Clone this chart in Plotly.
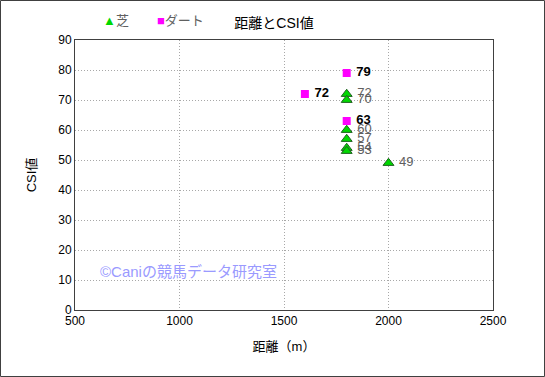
import plotly.graph_objects as go

# Data
turf_distance = [1800, 1800, 1800, 1800, 1800, 1800, 2000]
turf_csi = [72, 70, 60, 57, 54, 53, 49]
dirt_distance = [1800, 1600, 1800]
dirt_csi = [79, 72, 63]

x_ticks = [500, 1000, 1500, 2000, 2500]
y_ticks = [0, 10, 20, 30, 40, 50, 60, 70, 80, 90]

FONT = "Liberation Sans, Arial, Noto Sans CJK JP, sans-serif"
TURF_COLOR = "#00d800"
DIRT_COLOR = "#ff00ff"
NBSP = "\u00a0"

fig = go.Figure()
fig.add_trace(go.Scatter(
    x=turf_distance, y=turf_csi, name="芝", mode="markers+text",
    marker=dict(symbol="triangle-up", size=9.5, color=TURF_COLOR,
                line=dict(color="#206020", width=1)),
    text=[NBSP + str(v) for v in turf_csi], textposition="middle right",
    textfont=dict(family=FONT, size=13, color="#606060"),
))
fig.add_trace(go.Scatter(
    x=dirt_distance, y=dirt_csi, name="ダート", mode="markers+text",
    marker=dict(symbol="square", size=8, color=DIRT_COLOR,
                line=dict(width=0)),
    text=[NBSP + str(v) for v in dirt_csi], textposition="middle right",
    textfont=dict(family=FONT, size=13, color="#000000", weight="bold"),
))

L, R, T, B = 75, 52, 40, 67
W, H = 545, 377
pw, ph = W - L - R, H - T - B

grid = dict(showgrid=True, gridcolor="#a8a8a8", griddash="1px,2px", gridwidth=1,
            showline=True, linecolor="#404040", linewidth=1, mirror=True,
            zeroline=False, ticks="", ticklen=0, automargin=False,
            tickfont=dict(family=FONT, size=12, color="#000000"))

fig.update_layout(
    width=W, height=H,
    margin=dict(l=L, r=R, t=T, b=B, pad=0, autoexpand=False),
    paper_bgcolor="white", plot_bgcolor="white",
    font=dict(family=FONT, size=12, color="#000000"),
    title=dict(text="距離とCSI値", x=(274 - L) / pw, xref="paper", xanchor="center",
               y=1 - 23 / H, yref="container", yanchor="middle",
               font=dict(family=FONT, size=14, color="#000000")),
    showlegend=False,
    xaxis=dict(range=[500, 2500], tickvals=x_ticks, ticktext=[str(v) for v in x_ticks],
               title=dict(text="距離（m）", standoff=14,
                          font=dict(family=FONT, size=13, color="#000000")),
               **grid),
    yaxis=dict(range=[0, 90], tickvals=y_ticks, ticktext=[str(v) for v in y_ticks],
               title=dict(text="CSI値", standoff=18,
                          font=dict(family=FONT, size=13, color="#000000")),
               **grid),
)

# legend drawn as text entries (symbol immediately followed by the series name)
fig.add_annotation(
    text=f'<span style="color:{TURF_COLOR}">▲</span>芝',
    xref="paper", x=(101 - L) / pw, xanchor="left",
    yref="paper", y=1 + (T - 21) / ph, yanchor="middle", showarrow=False,
    font=dict(family=FONT, size=13, color="#606060"),
)
fig.add_annotation(
    text=f'<span style="color:{DIRT_COLOR}">■</span>ダート',
    xref="paper", x=(155 - L) / pw, xanchor="left",
    yref="paper", y=1 + (T - 21) / ph, yanchor="middle", showarrow=False,
    font=dict(family=FONT, size=13, color="#606060"),
)

fig.add_annotation(
    text="©Caniの競馬データ研究室", xref="paper", x=(98 - L) / pw, xanchor="left",
    yref="y", y=13, yanchor="middle", showarrow=False,
    font=dict(family=FONT, size=15, color="#9a9aff"),
)

# outer border around the whole chart
fig.add_shape(type="rect", xref="paper", yref="paper",
              x0=(0.5 - L) / pw, x1=(W - 0.5 - L) / pw,
              y0=-(H - 0.5 - (T + ph)) / ph, y1=(T + ph - 0.5) / ph,
              line=dict(color="#404040", width=1), fillcolor="rgba(0,0,0,0)",
              layer="below")

fig.write_html(
    "out.html",
    config={"displayModeBar": False},
    post_script="document.body.style.margin='0';document.body.style.padding='0';",
)
